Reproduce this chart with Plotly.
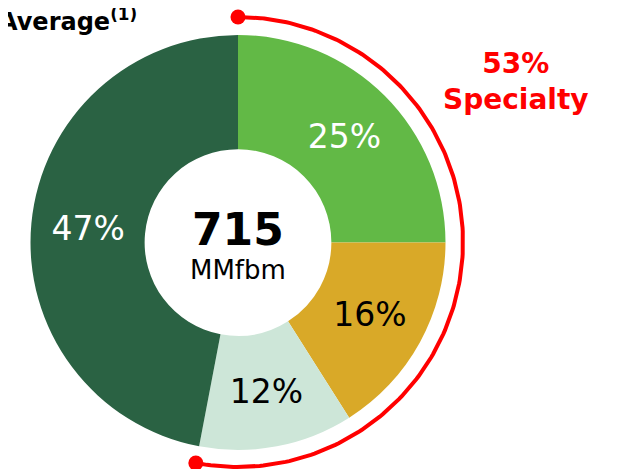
import numpy as np
import plotly.graph_objects as go

categories = ["Specialty A", "Specialty B", "Specialty C", "Commodity"]
values = [25, 16, 12, 47]
colors = ["#62b946", "#d9a928", "#cde6d8", "#2a6243"]
text_colors = ["white", "black", "black", "white"]
specialty_share = sum(values[:3])
total_volume = 715
volume_unit = "MMfbm"

W, H = 618, 469
OFF = 8  # page body margin
cx, cy, r_arc = 238, 242, 225

fig = go.Figure()
fig.add_trace(go.Pie(
    labels=categories, values=values, sort=False, direction="clockwise",
    hole=0.45, marker=dict(colors=colors, line=dict(width=0)),
    texttemplate="%{value}%", textposition="inside",
    insidetextorientation="horizontal",
    textfont=dict(family="DejaVu Sans", size=33, color=text_colors),
    showlegend=False, hoverinfo="skip",
    domain=dict(x=[22 / W, 438 / W], y=[27 / H, 442 / H]),
))

theta = np.linspace(0, specialty_share / 100 * 2 * np.pi, 200)
ax = cx + r_arc * np.sin(theta)
ay = cy - r_arc * np.cos(theta)
fig.add_trace(go.Scatter(x=ax, y=ay, mode="lines", line=dict(color="#ff0000", width=4),
                         showlegend=False, hoverinfo="skip"))
fig.add_trace(go.Scatter(x=[ax[0], ax[-1]], y=[ay[0], ay[-1]], mode="markers",
                         marker=dict(color="#ff0000", size=15), showlegend=False, hoverinfo="skip"))

fig.add_annotation(x=cx, y=229, xref="x", yref="y", text=f"<b>{total_volume}</b>", showarrow=False,
                   font=dict(family="DejaVu Sans", size=44, color="black"))
fig.add_annotation(x=cx, y=270, xref="x", yref="y", text=volume_unit, showarrow=False,
                   font=dict(family="DejaVu Sans", size=26, color="black"))
fig.add_annotation(x=516, y=81, xref="x", yref="y",
                   text=f"<b>{specialty_share}%<br>Specialty</b>", showarrow=False,
                   font=dict(family="DejaVu Sans", size=28, color="#ff0000"))
fig.add_annotation(x=139, y=20, xref="x", yref="y", xanchor="right",
                   text="<b>Average<sup>(1)</sup></b>", showarrow=False,
                   font=dict(family="DejaVu Sans", size=24, color="black"))

fig.update_layout(
    width=W, height=H, margin=dict(l=0, r=0, t=0, b=0),
    paper_bgcolor="white", plot_bgcolor="rgba(0,0,0,0)",
    xaxis=dict(range=[OFF, W + OFF], visible=False, fixedrange=True),
    yaxis=dict(range=[H + OFF, OFF], visible=False, fixedrange=True),
)
fig.write_html("out.html")
